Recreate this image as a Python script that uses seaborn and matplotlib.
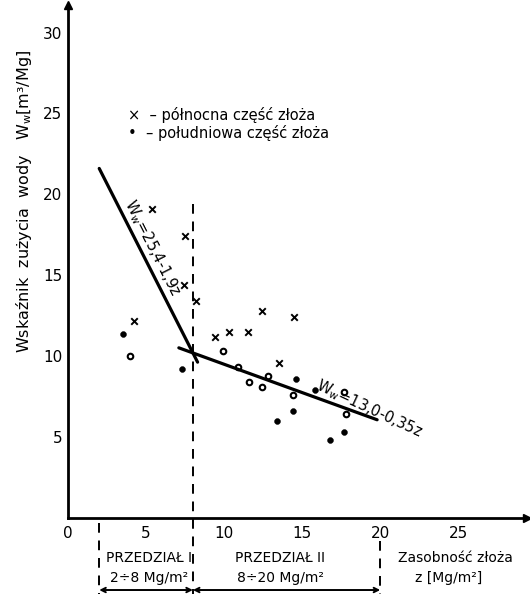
import numpy as np
import pandas as pd
import matplotlib
matplotlib.use("Agg")
import matplotlib.pyplot as plt
import seaborn as sns

# Northern part of the deposit (crosses)
north_z = [5.4, 7.5, 7.4, 8.2, 4.2, 9.4, 10.3, 11.5, 12.4, 14.5, 13.5]
north_w = [19.1, 17.4, 14.4, 13.4, 12.2, 11.2, 11.5, 11.5, 12.8, 12.4, 9.6]

# Southern part of the deposit (dots; some drawn as open circles)
south_z = [3.5, 4.0, 7.3, 9.9, 10.9, 11.6, 12.4, 12.8, 14.6, 14.4, 15.8,
           17.7, 17.8, 14.4, 13.4, 16.8, 17.7]
south_w = [11.4, 10.0, 9.2, 10.3, 9.3, 8.4, 8.1, 8.8, 8.6, 7.6, 7.9,
           7.8, 6.4, 6.6, 6.0, 4.8, 5.3]
south_open = [False, True, False, True, True, True, True, True, False, True,
              False, True, True, False, False, False, False]

# Regression lines W = a + b*z for the two ranges
fit_a = [25.4, 13.0]
fit_b = [-1.9, -0.35]
fit_range = [(2.0, 8.3), (7.1, 19.8)]
fit_labels = ["$\\mathregular{W_w}$=25,4-1,9z", "$\\mathregular{W_w}$=13,0-0,35z"]

x_ticks = [0, 5, 10, 15, 20, 25]
y_ticks = [5, 10, 15, 20, 25, 30]

sns.set_style("white")
plt.rcParams["font.family"] = ["DejaVu Sans"]
plt.rcParams.update({"text.color": "black", "axes.labelcolor": "black",
                     "xtick.color": "black", "ytick.color": "black"})

fig = plt.figure(figsize=(5.30, 5.96), dpi=100)
ax = fig.add_axes([68 / 530, 78 / 596, 459 / 530, 513 / 596])
ax.set_xlim(0, 29.4)
ax.set_ylim(0, 31.7)

# scatter points
north = pd.DataFrame({"z": north_z, "w": north_w})
south = pd.DataFrame({"z": south_z, "w": south_w, "open": south_open})
sns.scatterplot(data=north, x="z", y="w", marker="x", s=22, color="black",
                linewidth=1.4, ax=ax, legend=False)
sns.scatterplot(data=south[~south["open"]], x="z", y="w", marker="o", s=18,
                color="black", edgecolor="black", ax=ax, legend=False)
sns.scatterplot(data=south[south["open"]], x="z", y="w", marker="o", s=16,
                facecolor="white", edgecolor="black", linewidth=1.5, ax=ax,
                legend=False)

# regression segments
for a, b, (z0, z1) in zip(fit_a, fit_b, fit_range):
    seg = pd.DataFrame({"z": [z0, z1], "w": [a + b * z0, a + b * z1]})
    sns.lineplot(data=seg, x="z", y="w", color="black", linewidth=2.3, ax=ax,
                 legend=False)

fig.canvas.draw()


def screen_angle(a, b, z0, z1):
    p0 = ax.transData.transform((z0, a + b * z0))
    p1 = ax.transData.transform((z1, a + b * z1))
    return np.degrees(np.arctan2(p1[1] - p0[1], p1[0] - p0[0]))


# equation labels along the lines
ang1 = screen_angle(fit_a[0], fit_b[0], *fit_range[0])
ax.text(5.4, 16.7, fit_labels[0], rotation=ang1, rotation_mode="anchor",
        ha="center", va="center", fontsize=10.5)
ang2 = screen_angle(fit_a[1], fit_b[1], *fit_range[1]) - 5
ax.text(19.3, 6.75, fit_labels[1], rotation=ang2, rotation_mode="anchor",
        ha="center", va="center", fontsize=10.5)

# legend written as text
ax.text(3.85, 24.9, "×  – północna część złoża", ha="left", va="center",
        fontsize=10.5)
ax.text(3.85, 23.8, "•  – południowa część złoża", ha="left", va="center",
        fontsize=10.5)

# axes styling
sns.despine(ax=ax)
for side in ("left", "bottom"):
    ax.spines[side].set_linewidth(2)
    ax.spines[side].set_color("black")
ax.plot(1, 0, ">k", ms=6, transform=ax.get_yaxis_transform(), clip_on=False)
ax.plot(0, 1, "^k", ms=6, transform=ax.get_xaxis_transform(), clip_on=False)
ax.set_xticks(x_ticks)
ax.set_yticks(y_ticks)
ax.tick_params(direction="inout", length=6, width=1.5, labelsize=11,
               colors="black")
ax.tick_params(axis="y", pad=1)
ax.tick_params(axis="x", pad=3)
ax.set_xlabel("")
ax.set_ylabel("")

# y label
fig.text(24 / 530, 1 - 201 / 596,
         "Wskaźnik  zużycia  wody   $\\mathregular{W_w}$[m³/Mg]",
         rotation=90, ha="center", va="center", fontsize=11.5)

# range boundaries and dimension lines below the axis
dash = dict(color="black", linewidth=1.4, linestyle=(0, (5, 4)), clip_on=False)
ax.plot([8, 8], [19.4, -4.7], **dash)
ax.plot([2, 2], [-0.3, -4.7], **dash)
ax.plot([20, 20], [-1.4, -4.7], **dash)
for z0, z1 in [(2, 8), (8, 20)]:
    ax.annotate("", xy=(z0, -4.45), xytext=(z1, -4.45),
                arrowprops=dict(arrowstyle="<->", color="black", lw=1.4,
                                shrinkA=0, shrinkB=0, mutation_scale=8),
                annotation_clip=False)

ax.text(5.2, -2.47, "PRZEDZIAŁ I", ha="center", va="center", fontsize=10)
ax.text(5.2, -3.7, "2÷8 Mg/m²", ha="center", va="center", fontsize=10)
ax.text(13.6, -2.47, "PRZEDZIAŁ II", ha="center", va="center", fontsize=10)
ax.text(13.6, -3.7, "8÷20 Mg/m²", ha="center", va="center", fontsize=10)
ax.text(24.8, -2.47, "Zasobność złoża", ha="center", va="center", fontsize=10)
ax.text(24.4, -3.7, "z [Mg/m²]", ha="center", va="center", fontsize=10)

fig.savefig("out.png", dpi=100, facecolor="white")
